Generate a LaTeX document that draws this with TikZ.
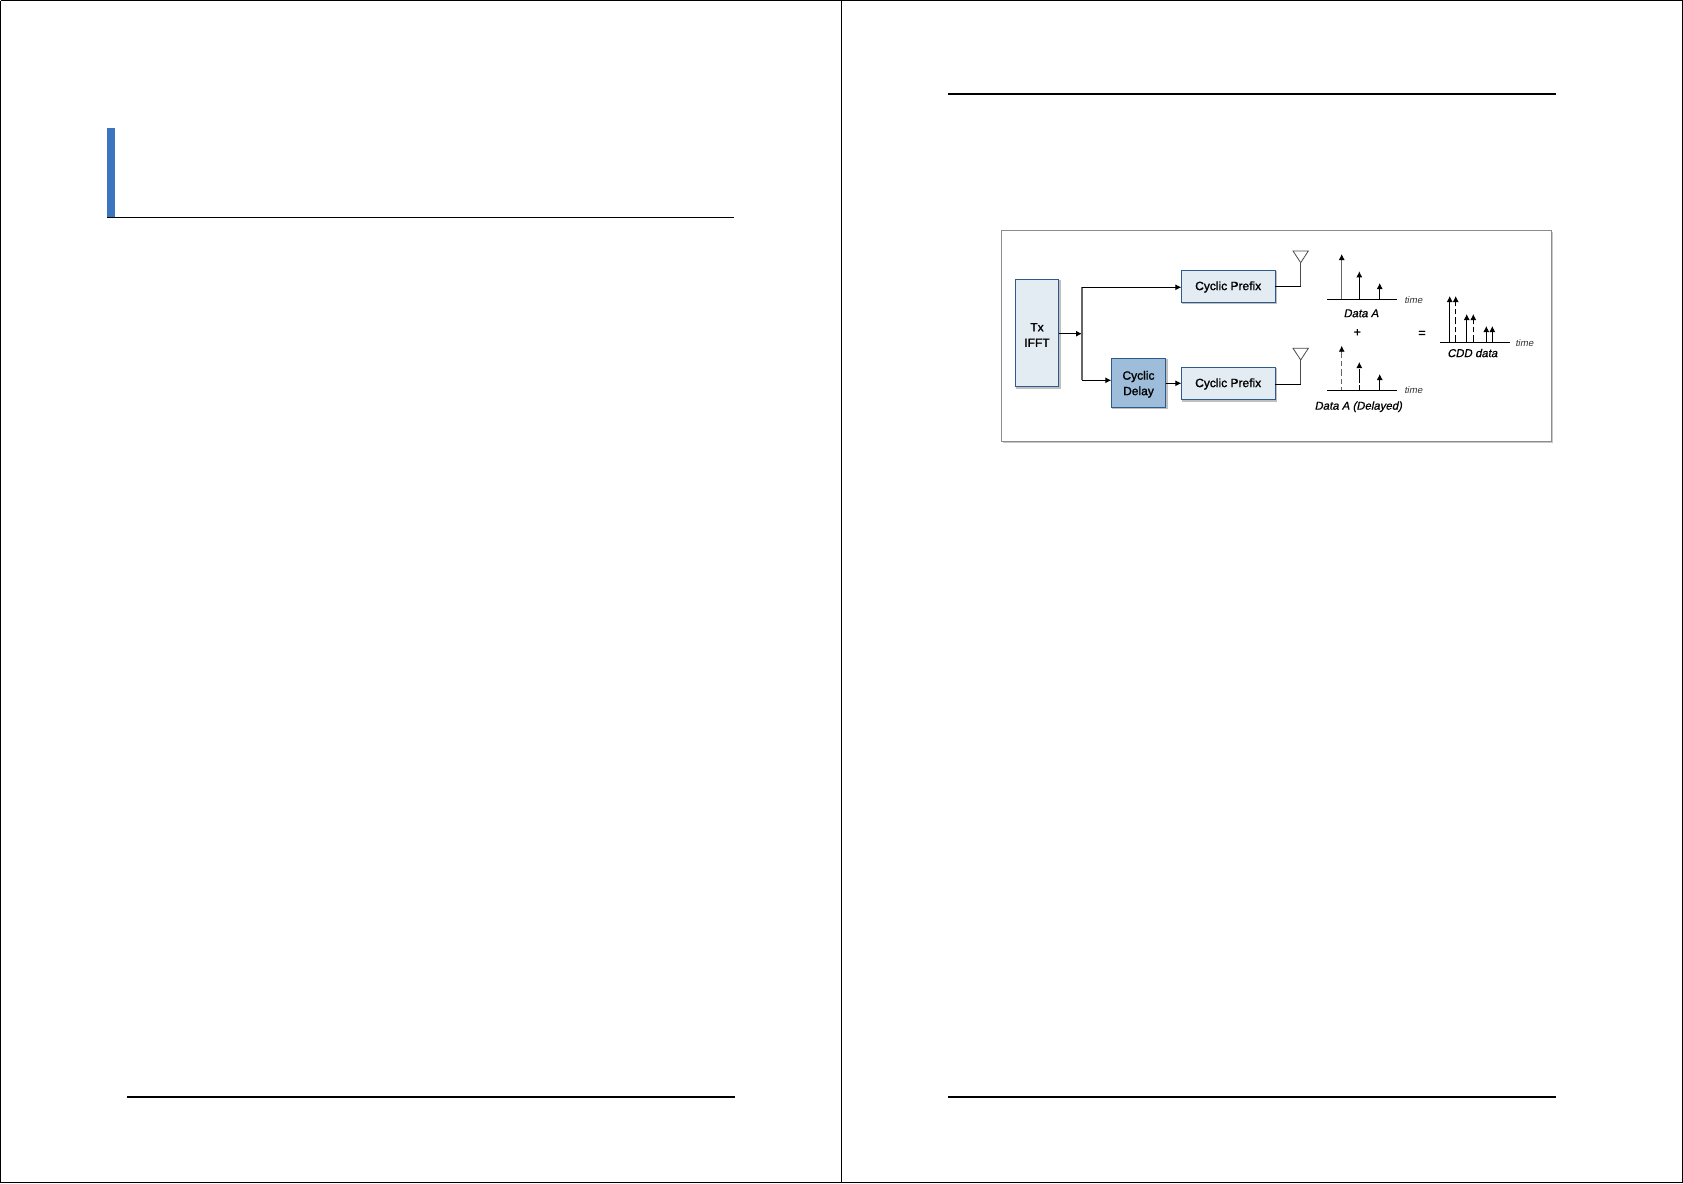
\documentclass[tikz,border=0pt]{standalone}
\usepackage{fontspec}
\setmainfont{Liberation Sans}
\newfontfamily\dgmfont[FakeBold=1.4]{Liberation Sans}
\newfontfamily\dgmital[FakeBold=0.9,FakeSlant=0.2]{Liberation Sans}
\newfontfamily\dgmtime[FakeSlant=0.2]{Liberation Sans}
\usetikzlibrary{arrows.meta,calc}
\definecolor{boxedge}{HTML}{2F5B8C}
\definecolor{lightbox}{HTML}{E3EBF3}
\definecolor{darkbox}{HTML}{9DBDDB}
\definecolor{barblue}{HTML}{3B75BF}
\newcommand{\lowered}[2]{\raisebox{-#1}[\height][\depth]{\begin{tabular}{@{}c@{}}#2\end{tabular}}}
\tikzset{
  rule/.style={draw=black,line width=2pt},
  pageline/.style={draw=black,line width=1.2pt},
  blockbox/.style={draw=boxedge,line width=0.9pt,fill=lightbox,inner sep=0pt,outer sep=0pt,align=center,
    font=\dgmfont\fontsize{12}{15.5}\selectfont,
    preaction={draw=black!25,fill=black!25,transform canvas={shift={(1.5pt,-1.5pt)}}}},
  delaybox/.style={blockbox,fill=darkbox},
  wire/.style={draw=black,line width=1pt},
  flow/.style={wire,-{Latex[length=6pt,width=6pt]}},
  spike/.style={draw=black,line width=0.9pt,-{Latex[length=6pt,width=6pt]}},
  dashspike/.style={spike,dash pattern=on 7pt off 3pt on 5pt off 3pt},
  axisline/.style={draw=black,line width=0.9pt},
  antenna/.style={draw=black!70,line width=0.8pt},
  lbl/.style={inner sep=0pt,font=\dgmital\fontsize{11.4}{13}\selectfont},
  timelbl/.style={inner sep=0pt,font=\dgmtime\fontsize{9.5}{10}\selectfont,text=black!80},
  symb/.style={inner sep=0pt,font=\dgmfont\fontsize{12.5}{14}\selectfont}
}
\begin{document}
\begin{tikzpicture}[x=1pt,y=-1pt]
\useasboundingbox (0,0) rectangle (1683,1183);
% page borders
\draw[pageline] (0.5,0.5) -- (1682.5,0.5);
\draw[pageline] (0.5,0.5) -- (0.5,1182.5);
\draw[pageline] (0.5,1182.5) -- (1682.5,1182.5);
\draw[pageline] (1682.4,0) -- (1682.4,1183);
\draw[pageline] (841.3,0) -- (841.3,1183);
% left page
\fill[barblue] (107,128) rectangle (115,217);
\draw[draw=black,line width=0.8pt] (107,217) -- (734,217);
\draw[rule] (127,1096.7) -- (735,1096.7);
% right page
\draw[rule] (948,94) -- (1556,94);
\draw[rule] (948,1096.7) -- (1556,1096.7);
% frame
\fill[black!22] (1003,232) rectangle (1553,443);
\draw[draw=black!45,line width=1pt,fill=white] (1001.5,230) rectangle (1551.7,441.7);
% blocks
\node[blockbox,minimum width=43.4pt,minimum height=107.4pt] (ifft) at (1037,333) {\lowered{3pt}{Tx\\IFFT}};
\node[blockbox,minimum width=93.7pt,minimum height=32pt] (cp1) at (1228.2,286.3) {\lowered{0.7pt}{Cyclic Prefix}};
\node[blockbox,minimum width=93.7pt,minimum height=32.7pt] (cp2) at (1228.2,383.3) {\lowered{0.7pt}{Cyclic Prefix}};
\node[delaybox,minimum width=54.4pt,minimum height=49pt] (delay) at (1138.5,382.8) {\lowered{1.5pt}{Cyclic\\Delay}};
% connectors
\coordinate (junc) at (1082,333.7);
\coordinate (jtop) at (1082,287.3);
\coordinate (jbot) at (1082,380.3);
\draw[flow] (ifft.east |- junc) -- (junc);
\draw[wire,draw=black!60,line width=1.2pt] (jtop) -- (jbot);
\draw[flow] (jtop) -- (cp1.west |- jtop);
\draw[flow] (jbot) -- (delay.west |- jbot);
\draw[flow] (delay.east |- cp2.west) -- (cp2.west);
% antennas
\coordinate (ant1) at (1300.7,262.7);
\coordinate (ant2) at (1300.7,360);
\draw[antenna] (1293,251) -- (1308.3,251) -- (ant1) -- cycle;
\draw[antenna] (1293,348.3) -- (1308.3,348.3) -- (ant2) -- cycle;
\draw[wire] (cp1.east) -- (ant1 |- cp1.east);
\draw[antenna] (ant1 |- cp1.east) -- (ant1);
\draw[wire] (cp2.east |- 0,384.3) -- (ant2 |- 0,384.3);
\draw[antenna] (ant2 |- 0,384.3) -- (ant2);
% Data A
\draw[axisline] (1327.3,299.3) -- (1396.7,299.3);
\draw[spike,draw=black!60,{Latex[length=6pt,width=6pt,black]}-] (1341.7,254) -- (1341.7,299.3);
\draw[spike] (1359.3,299.3) -- (1359.3,271.3);
\draw[spike] (1379.7,299.3) -- (1379.7,283);
\node[timelbl] (t1) at (1413.3,299.8) {time};
\node[lbl] (dataa) at (1361,313.3) {Data A};
\node[symb] (plus) at (1357.3,332.7) {+};
\node[symb] (equals) at (1422,334) {=};
% Data A delayed
\draw[axisline] (1327.3,390.3) -- (1396.7,390.3);
\draw[dashspike,draw=black!60,{Latex[length=6pt,width=6pt,black]}-] (1341.7,345.7) -- (1341.7,390.3);
\draw[dashspike,dash pattern=on 5pt off 2pt on 14pt off 2pt] (1359.3,390.3) -- (1359.3,362);
\draw[spike] (1379.7,390.3) -- (1379.7,374);
\node[timelbl] (t2) at (1413.3,390.3) {time};
\node[lbl] (datad) at (1358.3,406.7) {Data A (Delayed)};
% CDD
\draw[axisline] (1440.3,342.3) -- (1510,342.3);
\draw[spike] (1449.7,342.3) -- (1449.7,296);
\draw[dashspike] (1455.7,342.3) -- (1455.7,296);
\draw[spike] (1466.7,342.3) -- (1466.7,314);
\draw[dashspike] (1473.3,342.3) -- (1473.3,314);
\draw[spike] (1486.3,342.3) -- (1486.3,326);
\draw[spike] (1492.3,342.3) -- (1492.3,326);
\node[timelbl] (t3) at (1524.3,343) {time};
\node[lbl] (cdd) at (1472.3,353) {CDD data};
\end{tikzpicture}
\end{document}
